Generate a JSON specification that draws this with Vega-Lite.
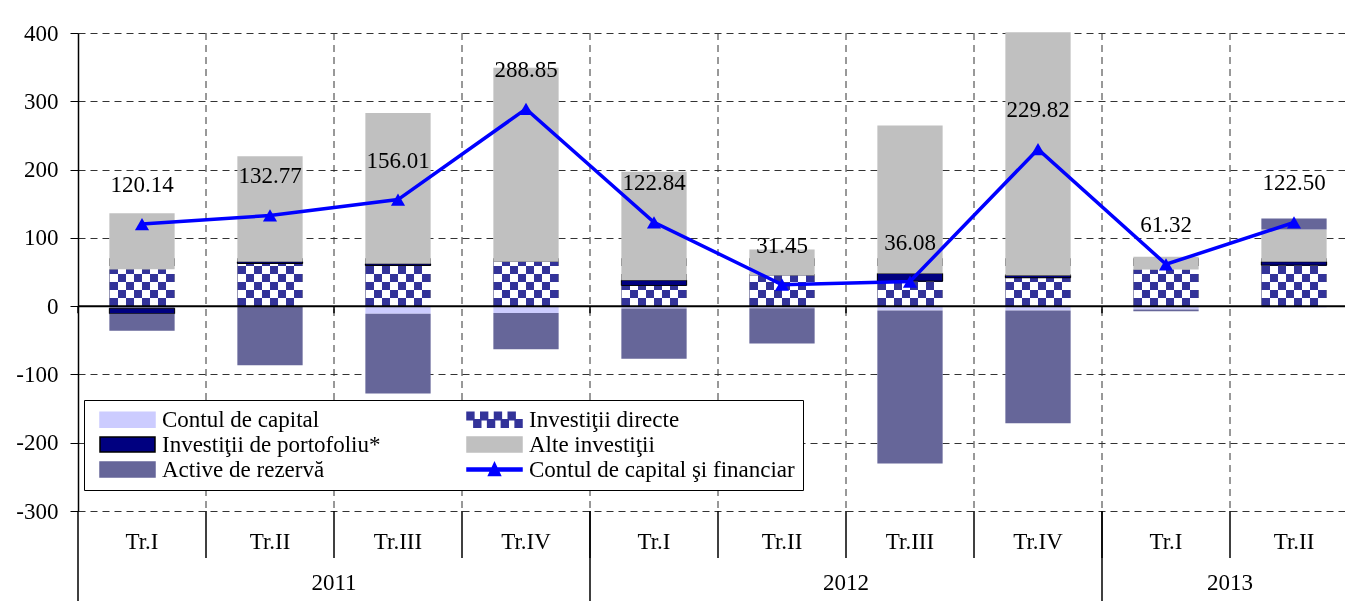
{
  "$schema": "https://vega.github.io/schema/vega-lite/v6.json",
  "width": 1280,
  "height": 478,
  "autosize": {"type": "none"},
  "padding": {"left": 78, "top": 33, "right": -13, "bottom": 90},
  "background": "white",
  "config": {
    "view": {"stroke": null},
    "font": "Liberation Serif",
    "axis": {"labelFont": "Liberation Serif", "labelFontSize": 23, "labelColor": "black", "title": null},
    "legend": {
      "orient": "none", "legendX": 6, "legendY": 367, "columns": 2, "columnPadding": 78, "rowPadding": 1, "padding": 8,
      "strokeColor": "black", "fillColor": "white", "labelFont": "Liberation Serif", "labelFontSize": 23, "labelColor": "black",
      "labelOffset": 47, "labelLimit": 400, "symbolSize": 225, "symbolStrokeWidth": 1.5, "symbolOpacity": 1
    }
  },
  "datasets": {
    "all": [
      {"q": "2011 Tr.I", "series": "Contul de capital", "k": 1, "value": -3},
      {"q": "2011 Tr.I", "series": "Investiţii directe", "k": 2, "value": 54},
      {"q": "2011 Tr.I", "series": "Investiţii de portofoliu*", "k": 3, "value": -8},
      {"q": "2011 Tr.I", "series": "Alte investiţii", "k": 4, "value": 82},
      {"q": "2011 Tr.I", "series": "Active de rezervă", "k": 5, "value": -25},
      {"q": "2011 Tr.II", "series": "Contul de capital", "k": 1, "value": -0.5},
      {"q": "2011 Tr.II", "series": "Investiţii directe", "k": 2, "value": 62.5},
      {"q": "2011 Tr.II", "series": "Investiţii de portofoliu*", "k": 3, "value": 2.5},
      {"q": "2011 Tr.II", "series": "Alte investiţii", "k": 4, "value": 154.6},
      {"q": "2011 Tr.II", "series": "Active de rezervă", "k": 5, "value": -86},
      {"q": "2011 Tr.III", "series": "Contul de capital", "k": 1, "value": -11},
      {"q": "2011 Tr.III", "series": "Investiţii directe", "k": 2, "value": 59.6},
      {"q": "2011 Tr.III", "series": "Investiţii de portofoliu*", "k": 3, "value": 2.4},
      {"q": "2011 Tr.III", "series": "Alte investiţii", "k": 4, "value": 221},
      {"q": "2011 Tr.III", "series": "Active de rezervă", "k": 5, "value": -117},
      {"q": "2011 Tr.IV", "series": "Contul de capital", "k": 1, "value": -10},
      {"q": "2011 Tr.IV", "series": "Investiţii directe", "k": 2, "value": 65},
      {"q": "2011 Tr.IV", "series": "Alte investiţii", "k": 4, "value": 284},
      {"q": "2011 Tr.IV", "series": "Active de rezervă", "k": 5, "value": -53},
      {"q": "2012 Tr.I", "series": "Contul de capital", "k": 1, "value": -3.5},
      {"q": "2012 Tr.I", "series": "Investiţii directe", "k": 2, "value": 30.3},
      {"q": "2012 Tr.I", "series": "Investiţii de portofoliu*", "k": 3, "value": 7.7},
      {"q": "2012 Tr.I", "series": "Alte investiţii", "k": 4, "value": 158.8},
      {"q": "2012 Tr.I", "series": "Active de rezervă", "k": 5, "value": -73.5},
      {"q": "2012 Tr.II", "series": "Contul de capital", "k": 1, "value": -3},
      {"q": "2012 Tr.II", "series": "Investiţii directe", "k": 2, "value": 45},
      {"q": "2012 Tr.II", "series": "Alte investiţii", "k": 4, "value": 38},
      {"q": "2012 Tr.II", "series": "Active de rezervă", "k": 5, "value": -51.6},
      {"q": "2012 Tr.III", "series": "Contul de capital", "k": 1, "value": -6.5},
      {"q": "2012 Tr.III", "series": "Investiţii directe", "k": 2, "value": 36.6},
      {"q": "2012 Tr.III", "series": "Investiţii de portofoliu*", "k": 3, "value": 11.3},
      {"q": "2012 Tr.III", "series": "Alte investiţii", "k": 4, "value": 216.7},
      {"q": "2012 Tr.III", "series": "Active de rezervă", "k": 5, "value": -224},
      {"q": "2012 Tr.IV", "series": "Contul de capital", "k": 1, "value": -6.5},
      {"q": "2012 Tr.IV", "series": "Investiţii directe", "k": 2, "value": 41.6},
      {"q": "2012 Tr.IV", "series": "Investiţii de portofoliu*", "k": 3, "value": 3.4},
      {"q": "2012 Tr.IV", "series": "Alte investiţii", "k": 4, "value": 356},
      {"q": "2012 Tr.IV", "series": "Active de rezervă", "k": 5, "value": -165},
      {"q": "2013 Tr.I", "series": "Contul de capital", "k": 1, "value": -5},
      {"q": "2013 Tr.I", "series": "Investiţii directe", "k": 2, "value": 53.7},
      {"q": "2013 Tr.I", "series": "Alte investiţii", "k": 4, "value": 18.6},
      {"q": "2013 Tr.I", "series": "Active de rezervă", "k": 5, "value": -2.5},
      {"q": "2013 Tr.II", "series": "Contul de capital", "k": 1, "value": -2},
      {"q": "2013 Tr.II", "series": "Investiţii directe", "k": 2, "value": 60},
      {"q": "2013 Tr.II", "series": "Investiţii de portofoliu*", "k": 3, "value": 5},
      {"q": "2013 Tr.II", "series": "Alte investiţii", "k": 4, "value": 47.3},
      {"q": "2013 Tr.II", "series": "Active de rezervă", "k": 5, "value": 16},
      {"q": "2011 Tr.I", "year": "2011", "series": "Contul de capital şi financiar", "k": 6, "value": 120.14},
      {"q": "2011 Tr.II", "year": "2011", "series": "Contul de capital şi financiar", "k": 6, "value": 132.77},
      {"q": "2011 Tr.III", "year": "2011", "series": "Contul de capital şi financiar", "k": 6, "value": 156.01},
      {"q": "2011 Tr.IV", "year": "2011", "series": "Contul de capital şi financiar", "k": 6, "value": 288.85},
      {"q": "2012 Tr.I", "year": "2012", "series": "Contul de capital şi financiar", "k": 6, "value": 122.84},
      {"q": "2012 Tr.II", "year": "2012", "series": "Contul de capital şi financiar", "k": 6, "value": 31.45},
      {"q": "2012 Tr.III", "year": "2012", "series": "Contul de capital şi financiar", "k": 6, "value": 36.08},
      {"q": "2012 Tr.IV", "year": "2012", "series": "Contul de capital şi financiar", "k": 6, "value": 229.82},
      {"q": "2013 Tr.I", "year": "2013", "series": "Contul de capital şi financiar", "k": 6, "value": 61.32},
      {"q": "2013 Tr.II", "year": "2013", "series": "Contul de capital şi financiar", "k": 6, "value": 122.5}
    ]
  },
  "data": {"name": "all"},
  "layer": [
    {
      "transform": [{"filter": "datum.k == 6"}],
      "mark": {"type": "rule", "color": "#333333", "strokeWidth": 1, "strokeDash": [7, 5]},
      "encoding": {
        "x": {"field": "q", "type": "nominal", "sort": null, "bandPosition": 1,
          "scale": {"domain": ["2011 Tr.I", "2011 Tr.II", "2011 Tr.III", "2011 Tr.IV", "2012 Tr.I", "2012 Tr.II", "2012 Tr.III", "2012 Tr.IV", "2013 Tr.I", "2013 Tr.II"], "paddingInner": 0, "paddingOuter": 0},
          "axis": {"orient": "bottom", "labelExpr": "slice(datum.value, 5)", "ticks": false, "domain": false, "grid": false, "labelPadding": 19, "labelAngle": 0, "title": null}},
        "y": {"datum": 400, "type": "quantitative", "title": null,
          "scale": {"domain": [-300, 400], "nice": false, "zero": false},
          "axis": {"values": [-300, -200, -100, 0, 100, 200, 300, 400], "labelExpr": "'' + datum.value", "grid": true, "gridDash": [7, 5], "gridColor": "#333333", "gridWidth": 1, "domainColor": "black", "domainWidth": 1.5, "tickColor": "black", "tickSize": 8, "tickWidth": 1, "labelPadding": 12, "title": null}},
        "y2": {"datum": -300}
      }
    },
    {
      "transform": [
        {"filter": "datum.k < 6"},
        {"stack": "value", "groupby": ["q"], "sort": [{"field": "k", "order": "ascending"}], "as": ["y0", "y1"], "offset": "zero"},
        {"filter": "datum.k == 2"}
      ],
      "mark": {"type": "bar", "width": {"band": 0.51}, "fill": {"gradient": "linear", "x1": 0, "y1": 0, "x2": 1, "y2": 0, "stops": [
        {"offset": 0, "color": "black"}, {"offset": 0.125, "color": "black"},
        {"offset": 0.125, "color": "white"}, {"offset": 0.25, "color": "white"},
        {"offset": 0.25, "color": "black"}, {"offset": 0.375, "color": "black"},
        {"offset": 0.375, "color": "white"}, {"offset": 0.5, "color": "white"},
        {"offset": 0.5, "color": "black"}, {"offset": 0.625, "color": "black"},
        {"offset": 0.625, "color": "white"}, {"offset": 0.75, "color": "white"},
        {"offset": 0.75, "color": "black"}, {"offset": 0.875, "color": "black"},
        {"offset": 0.875, "color": "white"}, {"offset": 1, "color": "white"}]}},
      "encoding": {
        "x": {"field": "q", "type": "nominal"},
        "y": {"field": "y1", "type": "quantitative", "title": null},
        "y2": {"field": "y0"}
      }
    },
    {
      "transform": [{"filter": "datum.k == 2"}],
      "mark": {"type": "bar", "width": {"band": 0.51}, "blend": "difference", "fill": {"gradient": "linear", "x1": 0, "y1": 0, "x2": 0, "y2": 1, "stops": [
        {"offset": 0, "color": "white"}, {"offset": 0.1667, "color": "white"},
        {"offset": 0.1667, "color": "black"}, {"offset": 0.3333, "color": "black"},
        {"offset": 0.3333, "color": "white"}, {"offset": 0.5, "color": "white"},
        {"offset": 0.5, "color": "black"}, {"offset": 0.6667, "color": "black"},
        {"offset": 0.6667, "color": "white"}, {"offset": 0.8333, "color": "white"},
        {"offset": 0.8333, "color": "black"}, {"offset": 1, "color": "black"}]}},
      "encoding": {
        "x": {"field": "q", "type": "nominal"},
        "y": {"datum": 70, "type": "quantitative", "title": null},
        "y2": {"datum": 0}
      }
    },
    {
      "transform": [
        {"filter": "datum.k < 6"},
        {"stack": "value", "groupby": ["q"], "sort": [{"field": "k", "order": "ascending"}], "as": ["y0", "y1"], "offset": "zero"},
        {"filter": "datum.k == 2"}
      ],
      "mark": {"type": "bar", "width": {"band": 0.51}, "fill": "#333399", "blend": "screen"},
      "encoding": {
        "x": {"field": "q", "type": "nominal"},
        "y": {"field": "y1", "type": "quantitative", "title": null},
        "y2": {"field": "y0"}
      }
    },
    {
      "transform": [
        {"filter": "datum.k < 6"},
        {"stack": "value", "groupby": ["q"], "sort": [{"field": "k", "order": "ascending"}], "as": ["y0", "y1"], "offset": "zero"},
        {"filter": "datum.k == 1"}
      ],
      "mark": {"type": "bar", "width": {"band": 0.51}, "fill": "#CCCCFF"},
      "encoding": {
        "x": {"field": "q", "type": "nominal"},
        "y": {"field": "y1", "type": "quantitative", "title": null},
        "y2": {"field": "y0"}
      }
    },
    {
      "transform": [
        {"filter": "datum.k < 6"},
        {"stack": "value", "groupby": ["q"], "sort": [{"field": "k", "order": "ascending"}], "as": ["y0", "y1"], "offset": "zero"},
        {"filter": "datum.k == 3"}
      ],
      "mark": {"type": "bar", "width": {"band": 0.51}, "fill": "#000080", "stroke": "black", "strokeWidth": 1},
      "encoding": {
        "x": {"field": "q", "type": "nominal"},
        "y": {"field": "y1", "type": "quantitative", "title": null},
        "y2": {"field": "y0"}
      }
    },
    {
      "transform": [
        {"filter": "datum.k < 6"},
        {"stack": "value", "groupby": ["q"], "sort": [{"field": "k", "order": "ascending"}], "as": ["y0", "y1"], "offset": "zero"},
        {"filter": "datum.k == 4"}
      ],
      "mark": {"type": "bar", "width": {"band": 0.51}, "fill": "#C0C0C0"},
      "encoding": {
        "x": {"field": "q", "type": "nominal"},
        "y": {"field": "y1", "type": "quantitative", "title": null},
        "y2": {"field": "y0"}
      }
    },
    {
      "transform": [
        {"filter": "datum.k < 6"},
        {"stack": "value", "groupby": ["q"], "sort": [{"field": "k", "order": "ascending"}], "as": ["y0", "y1"], "offset": "zero"},
        {"filter": "datum.k == 5"}
      ],
      "mark": {"type": "bar", "width": {"band": 0.51}, "fill": "#666699"},
      "encoding": {
        "x": {"field": "q", "type": "nominal"},
        "y": {"field": "y1", "type": "quantitative", "title": null},
        "y2": {"field": "y0"}
      }
    },
    {
      "data": {"values": [{}]},
      "mark": {"type": "rule", "color": "black", "strokeWidth": 2},
      "encoding": {"y": {"datum": 0, "type": "quantitative", "title": null}}
    },
    {
      "transform": [{"filter": "datum.k == 6 && (datum.q == '2011 Tr.I' || datum.q == '2011 Tr.III' || datum.q == '2012 Tr.I' || datum.q == '2012 Tr.III' || datum.q == '2013 Tr.I')"}],
      "mark": {"type": "rule", "color": "black", "strokeWidth": 1.5, "y2Offset": 7},
      "encoding": {
        "x": {"field": "q", "type": "nominal", "bandPosition": 0},
        "y": {"datum": 0, "type": "quantitative", "title": null},
        "y2": {"datum": 0}
      }
    },
    {
      "transform": [{"filter": "datum.k == 6"}],
      "mark": {"type": "rule", "color": "black", "strokeWidth": 1.5, "y2Offset": 47},
      "encoding": {
        "x": {"field": "q", "type": "nominal", "bandPosition": 1},
        "y": {"datum": -300, "type": "quantitative", "title": null},
        "y2": {"datum": -300}
      }
    },
    {
      "transform": [{"filter": "datum.k == 6 && (datum.q == '2011 Tr.IV' || datum.q == '2012 Tr.IV')"}],
      "mark": {"type": "rule", "color": "black", "strokeWidth": 1.5, "y2Offset": 90},
      "encoding": {
        "x": {"field": "q", "type": "nominal", "bandPosition": 1},
        "y": {"datum": -300, "type": "quantitative", "title": null},
        "y2": {"datum": -300}
      }
    },
    {
      "transform": [{"filter": "datum.k == 6 && datum.q == '2011 Tr.I'"}],
      "mark": {"type": "rule", "color": "black", "strokeWidth": 1.5, "y2Offset": 90},
      "encoding": {
        "x": {"field": "q", "type": "nominal", "bandPosition": 0},
        "y": {"datum": -300, "type": "quantitative", "title": null},
        "y2": {"datum": -300}
      }
    },
    {
      "transform": [{"filter": "datum.k == 6 && (datum.q == '2011 Tr.II' || datum.q == '2012 Tr.II' || datum.q == '2013 Tr.I')"}],
      "mark": {"type": "text", "dy": 72, "fontSize": 23, "font": "Liberation Serif", "color": "black", "baseline": "middle", "align": "center"},
      "encoding": {
        "x": {"field": "q", "type": "nominal", "bandPosition": 1},
        "y": {"datum": -300, "type": "quantitative", "title": null},
        "text": {"field": "year", "type": "nominal"}
      }
    },
    {
      "transform": [{"filter": "datum.k == 6"}],
      "mark": {"type": "line", "color": "#0000FF", "strokeWidth": 3.5},
      "encoding": {
        "x": {"field": "q", "type": "nominal"},
        "y": {"field": "value", "type": "quantitative", "title": null}
      }
    },
    {
      "transform": [{"filter": "datum.k == 6"}],
      "mark": {"type": "point", "shape": "triangle-up", "filled": true, "size": 200, "color": "#0000FF", "opacity": 1},
      "encoding": {
        "x": {"field": "q", "type": "nominal"},
        "y": {"field": "value", "type": "quantitative", "title": null}
      }
    },
    {
      "transform": [{"filter": "datum.k == 6"}],
      "mark": {"type": "text", "dy": -39, "fontSize": 23, "font": "Liberation Serif", "color": "black", "baseline": "middle", "align": "center"},
      "encoding": {
        "x": {"field": "q", "type": "nominal"},
        "y": {"field": "value", "type": "quantitative", "title": null},
        "text": {"field": "value", "type": "quantitative", "format": ".2f"}
      }
    },
    {
      "mark": {"type": "point", "filled": true, "opacity": 0},
      "encoding": {
        "x": {"field": "q", "type": "nominal"},
        "y": {"field": "value", "type": "quantitative", "title": null, "stack": null},
        "color": {"field": "series", "type": "nominal",
          "scale": {"domain": ["Contul de capital", "Investiţii de portofoliu*", "Active de rezervă", "Investiţii directe", "Alte investiţii", "Contul de capital şi financiar"],
            "range": ["#CCCCFF", "#000080", "#666699", "#333399", "#C0C0C0", "#0000FF"]},
          "legend": {"title": null}},
        "shape": {"field": "series", "type": "nominal",
          "scale": {"domain": ["Contul de capital", "Investiţii de portofoliu*", "Active de rezervă", "Investiţii directe", "Alte investiţii", "Contul de capital şi financiar"],
            "range": ["M-0.467,-1H6.867V1H-0.467Z", "M-0.467,-1H6.867V1H-0.467Z", "M-0.467,-1H6.867V1H-0.467Z",
              "M-0.467,-1H0.45V0H-0.467Z M1.367,-1H2.283V0H1.367Z M3.2,-1H4.117V0H3.2Z M5.033,-1H5.95V0H5.033Z M0.45,0H1.367V1H0.45Z M2.283,0H3.2V1H2.283Z M4.117,0H5.033V1H4.117Z M5.95,0H6.867V1H5.95Z",
              "M-0.467,-1H6.867V1H-0.467Z",
              "M-0.467,-0.2H6.867V0.2H-0.467Z M2.4,0.8L3.2,-0.9L4,0.8Z"]},
          "legend": {"title": null}},
        "stroke": {"field": "series", "type": "nominal",
          "scale": {"domain": ["Contul de capital", "Investiţii de portofoliu*", "Active de rezervă", "Investiţii directe", "Alte investiţii", "Contul de capital şi financiar"],
            "range": ["#CCCCFF", "black", "#666699", "#333399", "#C0C0C0", "#0000FF"]},
          "legend": {"title": null}}
      }
    }
  ]
}
